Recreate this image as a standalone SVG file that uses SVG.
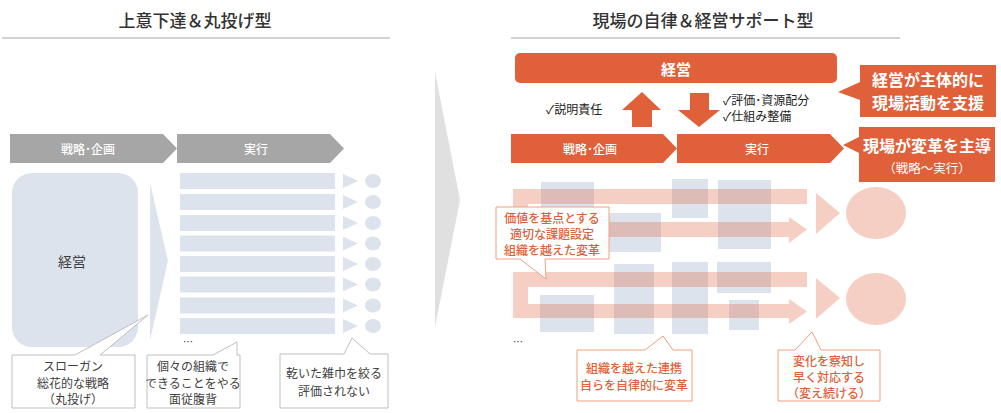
<svg xmlns="http://www.w3.org/2000/svg" width="1001" height="413" viewBox="0 0 1001 413">
<style>
text{font-family:"Noto Sans CJK JP","Noto Sans",sans-serif;text-anchor:middle;dominant-baseline:central}
.title{font-size:17px;fill:#333;font-weight:500}
.gch{fill:#a6a6a6}
.och{fill:#e0603a}
.wt{fill:#fff;font-size:12px;font-weight:500}
.bar{fill:#dce3ec}
.gc{fill:#fff;stroke:#bfbfbf;stroke-width:1}
.gt{font-size:12px;fill:#404040}
.oc{fill:#fff;stroke:#f0a080;stroke-width:1}
.ot{font-size:12px;fill:#e0603a;font-weight:500}
.pk{fill:#e0603a;fill-opacity:0.3}
.ck{font-size:12px;fill:#222;text-anchor:start}
.big{font-size:16px;fill:#fff;font-weight:700}
</style>
<!-- titles -->
<text class="title" x="195" y="19">上意下達＆丸投げ型</text>
<line x1="2" y1="38" x2="390" y2="38" stroke="#a6a6a6"/>
<text class="title" x="703" y="19">現場の自律＆経営サポート型</text>
<line x1="511" y1="38" x2="900" y2="38" stroke="#a6a6a6"/>

<!-- big transition arrow -->
<g id="transition">
<polygon points="435,72 460,200 435,327" fill="#e0e0e0"/>
</g>

<!-- LEFT -->
<g id="left-strategy">
<polygon class="gch" points="10,134 163,134 177,148.5 163,163 10,163"/>
<text class="wt" x="88" y="148.5">戦略･企画</text>
</g>
<g id="left-exec">
<polygon class="gch" points="177,134 330,134 344,148.5 330,163 177,163"/>
<text class="wt" x="256" y="148.5">実行</text>
</g>
<g id="left-mgmt">
<rect x="12" y="173" width="126" height="174" rx="20" class="bar"/>
<text x="72" y="261" font-size="14" fill="#404040">経営</text>
</g>
<g id="left-push">
<polygon points="150,183 168,261 150,340" class="bar"/>
</g>
<g id="left-bars">
<rect class="bar" x="180" y="173" width="155" height="16"/>
<rect class="bar" x="180" y="194" width="155" height="16"/>
<rect class="bar" x="180" y="215" width="155" height="16"/>
<rect class="bar" x="180" y="235.5" width="155" height="16"/>
<rect class="bar" x="180" y="256" width="155" height="16"/>
<rect class="bar" x="180" y="276.5" width="155" height="16"/>
<rect class="bar" x="180" y="297.5" width="155" height="16"/>
<rect class="bar" x="180" y="318" width="155" height="16"/>
<g class="bar">
<polygon points="343,174 358,181 343,188"/><ellipse cx="373" cy="181" rx="8" ry="7"/>
<polygon points="343,195 358,202 343,209"/><ellipse cx="373" cy="202" rx="8" ry="7"/>
<polygon points="343,216 358,223 343,230"/><ellipse cx="373" cy="223" rx="8" ry="7"/>
<polygon points="343,236.5 358,243.5 343,250.5"/><ellipse cx="373" cy="243.5" rx="8" ry="7"/>
<polygon points="343,257 358,264 343,271"/><ellipse cx="373" cy="264" rx="8" ry="7"/>
<polygon points="343,277.5 358,284.5 343,291.5"/><ellipse cx="373" cy="284.5" rx="8" ry="7"/>
<polygon points="343,298.5 358,305.5 343,312.5"/><ellipse cx="373" cy="305.5" rx="8" ry="7"/>
<polygon points="343,319 358,326 343,333"/><ellipse cx="373" cy="326" rx="8" ry="7"/>
</g>
<text x="188" y="341" font-size="10" fill="#333">…</text>
</g>
<g id="left-callout-1">
<path class="gc" d="M12,355 H75 L148,315 L100,355 H135 V408 H12 Z"/>
<text class="gt" x="73" y="365">スローガン</text>
<text class="gt" x="73" y="382">総花的な戦略</text>
<text class="gt" x="73" y="398">（丸投げ）</text>
</g>
<g id="left-callout-2">
<path class="gc" d="M147,355 H213 L237,342 V355 H240 V408 H147 Z"/>
<text class="gt" x="193" y="365">個々の組織で</text>
<text class="gt" x="193" y="382">できることをやる</text>
<text class="gt" x="193" y="398">面従腹背</text>
</g>
<g id="left-callout-3">
<path class="gc" d="M280,354 H344 L352,338 L370,354 H388 V408 H280 Z"/>
<text class="gt" x="334" y="372">乾いた雑巾を絞る</text>
<text class="gt" x="334" y="390">評価されない</text>
</g>

<!-- RIGHT -->
<g id="right-mgmt">
<rect x="515" y="53" width="322" height="30" rx="5" class="och"/>
<text x="676" y="68" style="font-size:15px;fill:#fff;font-weight:700">経営</text>
</g>
<g id="connectors">
<polygon class="och" points="642,92 661,110 652,110 652,127 632,127 632,110 622,110"/>
<polygon class="och" points="690,93 709,93 709,110 720,110 699,127 678,110 690,110"/>
</g>
<text class="ck" x="546" y="108">✓説明責任</text>
<text class="ck" x="723" y="99">✓評価･資源配分</text>
<text class="ck" x="723" y="115">✓仕組み整備</text>

<g id="right-strategy">
<polygon class="och" points="511,134 663,134 677,148.5 663,163 511,163"/>
<text class="wt" x="590" y="148.5">戦略･企画</text>
</g>
<g id="right-exec">
<polygon class="och" points="677,134 830,134 844,148.5 830,163 677,163"/>
<text class="wt" x="757" y="148.5">実行</text>
</g>
<g id="callout-support">
<path class="och" d="M860,65 H996 V117 H860 V100 L838,92 L860,82 Z"/>
<text class="big" x="928" y="79">経営が主体的に</text>
<text class="big" x="928" y="102">現場活動を支援</text>
</g>
<g id="callout-lead">
<path class="och" d="M859,127 H995 V182 H859 V153 L843,145 L859,137 Z"/>
<text class="big" x="927" y="145">現場が変革を主導</text>
<text x="927" y="167" font-size="12.5" fill="#fff">（戦略〜実行）</text>
</g>

<g id="right-blocks" class="bar">
<rect x="541" y="182" width="53" height="68"/>
<rect x="600" y="213" width="61" height="39"/>
<rect x="672" y="179" width="36" height="39"/>
<rect x="718" y="180" width="53" height="69"/>
<rect x="540" y="295" width="54" height="37"/>
<rect x="614" y="264" width="40" height="70"/>
<rect x="672" y="262" width="36" height="72"/>
<rect x="717" y="262" width="54" height="31"/>
<rect x="729" y="300" width="30" height="30"/>
</g>
<g id="flow-1">
<path class="pk" d="M807,189 V204 H528 V222 H789 V217 L807,229.5 L789,243 V237 H513 V189 Z"/>
<polygon class="pk" points="816,193 840,213 816,234"/>
<ellipse class="pk" cx="876" cy="213" rx="30" ry="26"/>
</g>
<g id="flow-2">
<path class="pk" d="M807,272 V287 H528 V304 H789 V299 L807,311.5 L789,324 V318 H513 V272 Z"/>
<polygon class="pk" points="816,278 840,298 816,319"/>
<ellipse class="pk" cx="876" cy="299" rx="30" ry="26"/>
</g>
<text x="518" y="341" font-size="10" fill="#333">…</text>

<g id="callout-value">
<path class="oc" d="M496,207 H609 V259 H545 L546,279 L520,259 H496 Z"/>
<text class="ot" x="552" y="217">価値を基点とする</text>
<text class="ot" x="552" y="233">適切な課題設定</text>
<text class="ot" x="552" y="249">組織を越えた変革</text>
</g>
<g id="callout-collab">
<path class="oc" d="M577,350 H645 L663,336 L673,350 H692 V401 H577 Z"/>
<text class="ot" x="634" y="367">組織を越えた連携</text>
<text class="ot" x="634" y="384">自らを自律的に変革</text>
</g>
<g id="callout-change">
<path class="oc" d="M778,350 H795 L812,332 L821,350 H880 V401 H778 Z"/>
<text class="ot" x="829" y="360">変化を察知し</text>
<text class="ot" x="829" y="376">早く対応する</text>
<text class="ot" x="829" y="392">（変え続ける）</text>
</g>
</svg>
